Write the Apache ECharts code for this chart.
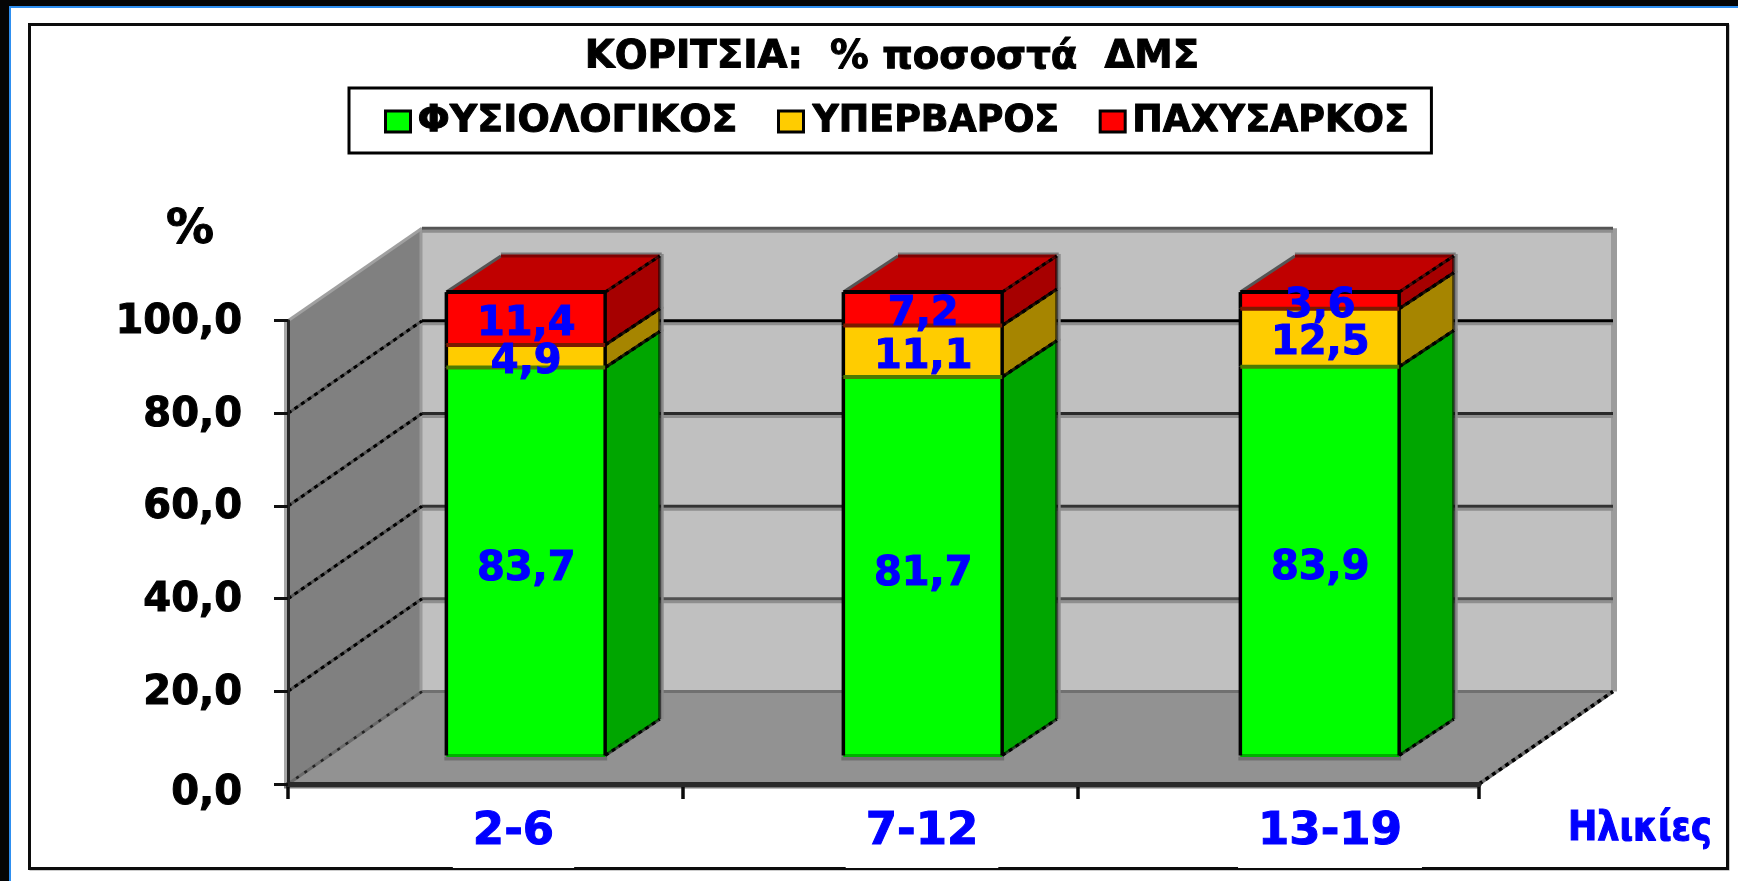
<!DOCTYPE html>
<html><head><meta charset="utf-8">
<style>html,body{margin:0;padding:0;background:#fff}#c{width:1738px;height:881px}</style>
<script src="https://cdn.jsdelivr.net/npm/echarts@6/dist/echarts.min.js"></script>
</head><body><div id="c"></div>
<script>
const categories = ['2-6', '7-12', '13-19'];
const normalWeight = [83.7, 81.7, 83.9];
const overweight = [4.9, 11.1, 12.5];
const obese = [11.4, 7.2, 3.6];
const yTicks = [0, 20, 40, 60, 80, 100];
const seriesNames = ['ΦΥΣΙΟΛΟΓΙΚΟΣ', 'ΥΠΕΡΒΑΡΟΣ', 'ΠΑΧΥΣΑΡΚΟΣ'];

const FONT = '"DejaVu Sans", Verdana, sans-serif';
const DX = 134, DY = 92.5;            // oblique projection of the chart's full depth
const chart = echarts.init(document.getElementById('c'), null, {renderer: 'canvas'});
const comma = v => v.toFixed(1).replace('.', ',');
const P = (p, d) => [p[0] + d * DX, p[1] - d * DY];

const poly = (pts, fill, stroke, lw, z2) => ({type: 'polygon', shape: {points: pts}, z2,
  style: {fill: fill || 'none', stroke: stroke || 'none', lineWidth: lw || 0}});
const line = (pts, stroke, lw, z2, dash) => ({type: 'polyline', shape: {points: pts}, z2, silent: true,
  style: {fill: 'none', stroke, lineWidth: lw, lineCap: 'butt', lineJoin: 'miter', lineDash: dash || null}});

const gridColors = {100: '#555', 80: '#000', 60: '#2A2A2A', 40: '#333', 20: '#505050'};
const tickNudge = [0, -2, -4, 0];

function renderWalls(params, api) {
  const v = api.value(1);
  const cw = api.size([1, 0])[0];
  const xl = api.coord([0, 0])[0] - cw / 2, xr = api.coord([categories.length - 1, 0])[0] + cw / 2;
  const y = api.coord([0, v])[1], y0 = api.coord([0, 0])[1], y100 = api.coord([0, 100])[1];
  const ch = [];
  if (params.dataIndex === 0) {
    ch.push(poly([P([xl, y100], 1), P([xr, y100], 1), P([xr, y0], 1), P([xl, y0], 1)], '#C0C0C0'));
    ch.push(poly([[xl, y0], [xl, y100], P([xl, y100], 1), P([xl, y0], 1)], '#808080'));
    ch.push(poly([[xl, y0], [xr, y0], P([xr, y0], 1), P([xl, y0], 1)], '#929292'));
    ch.push(line([[xl - 2, y0 + 2], [xl - 2, y100]], '#A8A8A8', 4, 1));
    ch.push(line([[P([xr, y0], 1)[0] + 1, y0 - DY], [P([xr, y100], 1)[0] + 1, y100 - DY]], '#9C9C9C', 6, 1));
    ch.push(line([[P([xl, y0], 1)[0] - 1, y0 - DY], [P([xl, y100], 1)[0] - 1, y100 - DY]], '#9A9A9A', 3, 1));
    ch.push(line([P([xl, y0], 1), P([xr, y0], 1)], '#707070', 3, 2));
    ch.push(line([[xl, y0], P([xl, y0], 1)], '#6A6A6A', 3, 2));
    ch.push(line([[xl, y0], P([xl, y0], 1)], '#222', 2.5, 2.2, [3, 7]));
    ch.push(line([[xr, y0], P([xr, y0], 1)], '#6E6E6E', 3.5, 2));
    ch.push(line([[xr, y0], P([xr, y0], 1)], '#000', 3.5, 2.5, [4, 4]));
    ch.push(line([[xl - 4, y0 + 3], [xr, y0 + 3]], '#7A7A7A', 3, 1));
    ch.push(line([[xl, y100], P([xl, y100], 1)], '#A0A0A0', 3, 2));
    // category boundary ticks below the floor edge
    tickNudge.forEach((n, i) => {
      const tx = xl + i * cw + n;
      ch.push(line([[tx, y0 + 2], [tx, y0 + 15]], '#0A0A0A', 3.5, 4));
    });
  } else {
    const a = [xl, y], b = P(a, 1), c = P([xr, y], 1);
    ch.push(line([[b[0], b[1] + 3], [c[0], c[1] + 3]], '#8E8E8E', 3, 2));
    if (v !== 100) {
      ch.push(line([a, b], '#555', 3, 3));
      ch.push(line([a, b], '#000', 3, 3.1, [4, 4]));
    }
    ch.push(line([b, c], gridColors[v], 3, 3));
  }
  return {type: 'group', children: ch};
}

function makeBarRenderer(front, side, top, divider, isTop, baseEdge) {
  return function (params, api) {
    const idx = api.value(0), y0 = api.value(1), y1 = api.value(2), val = api.value(3);
    const cw = api.size([1, 0])[0];
    const c0 = api.coord([idx, y0]), c1 = api.coord([idx, y1]);
    const hw = cw * 0.2;
    const d0 = 0.293, d1 = 0.7;
    const F = (x, y) => { const q = P([x, y], d0); return [q[0], q[1] - 1.5]; };
    const fl0 = F(c0[0] - hw, c0[1]), fr0 = F(c0[0] + hw, c0[1]);
    const fl1 = F(c1[0] - hw, c1[1]), fr1 = F(c1[0] + hw, c1[1]);
    const br0 = P([c0[0] + hw, c0[1]], d1), br1 = P([c1[0] + hw, c1[1]], d1);
    const bl1 = P([c1[0] - hw, c1[1]], d1);
    const ch = [];
    ch.push(line([[br0[0] + 2.5, br0[1]], [br1[0] + 2.5, br1[1] - 2]], '#8A8A8A', 3, 2));
    if (isTop) ch.push(line([[bl1[0], bl1[1] - 2], [br1[0] + 2, br1[1] - 2]], '#7A7A7A', 3, 2));
    ch.push(poly([fl0, fr0, fr1, fl1], front, null, 0, 5));
    ch.push(poly([fr0, br0, br1, fr1], side, null, 0, 5));
    if (isTop) ch.push(poly([fl1, fr1, br1, bl1], top, null, 0, 5));
    ch.push(line([fr0, br0], 'rgba(0,0,0,.55)', 3, 6));
    ch.push(line([fr0, br0], '#000', 3, 6.2, [4, 4]));
    ch.push(line([br0, br1], 'rgba(0,0,0,.6)', 3, 6));
    ch.push(line([fr1, br1], 'rgba(0,0,0,.55)', 3, 6.4));
    ch.push(line([fr1, br1], '#000', 3, 6.5, [4, 4]));
    ch.push(line([fl0, fl1], '#000', 3.5, 7));
    ch.push(line([fr0, fr1], '#000', 3.5, 7));
    if (baseEdge) {
      ch.push(line([[fl0[0] - 2, fl0[1] + 3], [fr0[0] + 2, fr0[1] + 3]], '#707070', 4, 2));
      ch.push(line([fl0, fr0], '#00B000', 3, 6));
    }
    ch.push(line([fl1, fr1], divider, 4, 7.5));
    if (isTop) {
      ch.push(line([fl1, bl1], '#555', 3, 6));
      ch.push(line([bl1, br1], '#800000', 3, 6));
    }
    ch.push({type: 'text', z2: 20, silent: true,
      x: (fl0[0] + fr0[0]) / 2 + 0.5, y: (fl0[1] + fl1[1]) / 2 + (baseEdge ? 8 : 6),
      style: {text: comma(val), fill: '#0000FF', stroke: '#0000FF', lineWidth: 1,
        font: 'bold 40px ' + FONT, align: 'center', verticalAlign: 'middle'}});
    return {type: 'group', children: ch};
  };
}

function stackRows(values, below) {
  return values.map((v, i) => [i, below[i], below[i] + v, v]);
}
const base1 = normalWeight.map(() => 0);
const base2 = normalWeight.slice();
const base3 = normalWeight.map((v, i) => v + overweight[i]);

const customCommon = {type: 'custom', coordinateSystem: 'cartesian2d', encode: {x: 0, y: [1, 2]}, z: 2, clip: false, silent: true};
const heavy = c => ({textBorderColor: c, textBorderWidth: 1});
const legendFont = (size, pad) => Object.assign({fontFamily: FONT, fontWeight: 'bold', fontSize: size, color: '#000', padding: [0, 0, 0, pad]}, heavy('#000'));

chart.setOption({
  animation: false,
  backgroundColor: '#fff',
  title: {text: 'ΚΟΡΙΤΣΙΑ:  % ποσοστά  ΔΜΣ', left: 887, top: 33, textAlign: 'center',
    textStyle: Object.assign({fontFamily: FONT, fontWeight: 'bold', fontSize: 38.7, color: '#000'}, heavy('#000'))},
  legend: {data: seriesNames, left: 349, top: 88, orient: 'horizontal', padding: [14, 22, 12, 35],
    itemWidth: 25, itemHeight: 21, itemGap: 39, icon: 'rect', selectedMode: false,
    borderColor: '#000', borderWidth: 3, backgroundColor: '#fff',
    itemStyle: {borderColor: '#000', borderWidth: 3},
    formatter: n => '{i' + seriesNames.indexOf(n) + '|' + n + '}',
    textStyle: {fontFamily: FONT, fontWeight: 'bold', fontSize: 38, color: '#000',
      rich: {i0: legendFont(38, 2), i1: legendFont(36.4, 4), i2: legendFont(36.4, 2)}}},
  grid: {left: 288, right: 259, top: 320.7, bottom: 97, containLabel: false},
  xAxis: {type: 'category', data: categories, z: 3,
    axisLine: {lineStyle: {color: '#2A2A2A', width: 5}},
    axisTick: {show: false},
    axisLabel: {interval: 0, hideOverlap: false, margin: 23,
      formatter: (v, i) => '{s' + i + '|\u00a0}{v|' + v + '}',
      rich: {
        s0: {width: 54}, s1: {width: 77}, s2: {width: 99},
        v: Object.assign({fontFamily: FONT, fontWeight: 'bold', fontSize: 45, color: '#0000FF',
            height: 50, lineHeight: 61, backgroundColor: '#fff', padding: [0, 20, 11, 20]}, heavy('#0000FF'))
      }}},
  yAxis: {type: 'value', min: 0, max: 100, interval: 20, z: 3,
    splitLine: {show: false},
    axisLine: {show: true, lineStyle: {color: '#262626', width: 3}},
    axisTick: {show: true, length: 14, lineStyle: {color: '#111', width: 3}},
    axisLabel: {margin: 46, formatter: v => (v === 0 ? '{z|' + comma(v) + '}' : '{n|' + comma(v) + '}'),
      rich: {
        n: Object.assign({fontFamily: FONT, fontWeight: 'bold', fontSize: 40, color: '#000', padding: [4, 0, 0, 0]}, heavy('#000')),
        z: Object.assign({fontFamily: FONT, fontWeight: 'bold', fontSize: 40, color: '#000', padding: [20, 0, 0, 0]}, heavy('#000'))
      }},
    name: '%', nameLocation: 'end', nameGap: 66,
    nameTextStyle: Object.assign({fontFamily: FONT, fontWeight: 'bold', fontSize: 48, color: '#000', padding: [0, 196, 0, 0]}, heavy('#000'))},
  graphic: [
    {type: 'rect', z: -3, shape: {x: 0, y: 0, width: 1738, height: 6}, style: {fill: '#050505'}},
    {type: 'rect', z: -3, shape: {x: 0, y: 6, width: 1738, height: 2}, style: {fill: '#2E8FF0'}},
    {type: 'rect', z: -3, shape: {x: 0, y: 0, width: 9, height: 881}, style: {fill: '#050505'}},
    {type: 'rect', z: -3, shape: {x: 9, y: 6, width: 2, height: 875}, style: {fill: '#2E8FF0'}},
    {type: 'rect', z: -3, shape: {x: 30.5, y: 25.5, width: 1698, height: 844}, style: {fill: 'none', stroke: '#999', lineWidth: 2}},
    {type: 'rect', z: -2, shape: {x: 29.5, y: 24.5, width: 1698, height: 844}, style: {fill: '#fff', stroke: '#0c0c0c', lineWidth: 3}},
    {type: 'text', z: 5, x: 1568, y: 829, scaleY: 1.18, style: {text: 'Ηλικίες', fill: '#0000FF', stroke: '#0000FF', lineWidth: 1,
      font: 'bold 35px ' + FONT, align: 'left', verticalAlign: 'middle'}}
  ],
  series: [
    Object.assign({}, customCommon, {name: 'walls', z: 1, encode: {x: 0, y: 1},
      data: yTicks.map(t => [0, t]), renderItem: renderWalls, itemStyle: {color: '#C0C0C0'}}),
    Object.assign({}, customCommon, {name: seriesNames[0], itemStyle: {color: '#00FF00'},
      data: stackRows(normalWeight, base1),
      renderItem: makeBarRenderer('#00FF00', '#00A600', '#00C000', '#4d7a00', false, true)}),
    Object.assign({}, customCommon, {name: seriesNames[1], itemStyle: {color: '#FFCC00'},
      data: stackRows(overweight, base2),
      renderItem: makeBarRenderer('#FFCC00', '#A68500', '#C09900', '#7a1a00', false, false)}),
    Object.assign({}, customCommon, {name: seriesNames[2], itemStyle: {color: '#FF0000'},
      data: stackRows(obese, base3),
      renderItem: makeBarRenderer('#FF0000', '#A60000', '#C00000', '#000', true, false)})
  ]
});
</script></body></html>
